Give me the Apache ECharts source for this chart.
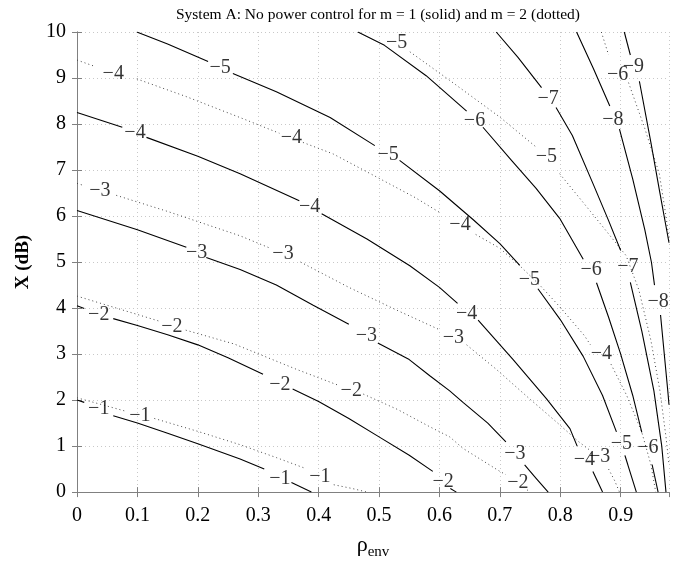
<!DOCTYPE html>
<html>
<head>
<meta charset="utf-8">
<script src="https://cdn.jsdelivr.net/npm/echarts@6/dist/echarts.min.js"></script>
<style>
  html, body { margin: 0; padding: 0; background: #fff; }
  #main { width: 688px; height: 565px; }
</style>
</head>
<body>
<div id="main"></div>
<script>
// axis ticks
var xTicks = [0, 0.1, 0.2, 0.3, 0.4, 0.5, 0.6, 0.7, 0.8, 0.9];
var yTicks = [0, 1, 2, 3, 4, 5, 6, 7, 8, 9, 10];

// m = 1 (solid) contours, each one a list of pieces broken at its labels
var solid1 = [
  [[0, 2.0], [0.012, 1.95]],
  [[0.06, 1.66], [0.1, 1.5], [0.15, 1.28], [0.2, 1.05], [0.27, 0.72], [0.31, 0.5]],
  [[0.355, 0.21], [0.388, 0]]
];
var solid1Lab = [[0.036, 1.82], [0.336, 0.3]];

var solid2 = [
  [[0, 4.05], [0.012, 3.99]],
  [[0.06, 3.77], [0.1, 3.62], [0.15, 3.42], [0.2, 3.2], [0.25, 2.92], [0.308, 2.56]],
  [[0.357, 2.24], [0.4, 1.97], [0.45, 1.6], [0.5, 1.2], [0.55, 0.8], [0.589, 0.45]],
  [[0.618, 0.08], [0.628, 0]]
];
var solid2Lab = [[0.036, 3.86], [0.336, 2.33], [0.606, 0.22]];

var solid3 = [
  [[0, 6.12], [0.1, 5.7], [0.181, 5.32]],
  [[0.214, 5.1], [0.27, 4.84], [0.33, 4.5], [0.391, 4.06], [0.45, 3.65]],
  [[0.498, 3.24], [0.55, 2.88], [0.584, 2.53], [0.617, 2.2], [0.639, 1.95], [0.68, 1.5], [0.71, 1.09]],
  [[0.741, 0.59], [0.76, 0.3], [0.78, 0]]
];
var solid3Lab = [[0.198, 5.2], [0.479, 3.4], [0.725, 0.83]];

var solid4 = [
  [[0, 8.25], [0.075, 7.93]],
  [[0.115, 7.71], [0.2, 7.3], [0.27, 6.92], [0.368, 6.33]],
  [[0.405, 6.05], [0.48, 5.5], [0.551, 4.92], [0.6, 4.45], [0.63, 4.1]],
  [[0.664, 3.74], [0.722, 2.88], [0.777, 2.03], [0.816, 1.38], [0.828, 1.0]],
  [[0.854, 0.45], [0.87, 0]]
];
var solid4Lab = [[0.096, 7.8], [0.385, 6.2], [0.645, 3.88], [0.84, 0.7]];

var solid5 = [
  [[0.099, 10], [0.15, 9.74], [0.217, 9.36]],
  [[0.258, 9.1], [0.33, 8.7], [0.419, 8.14], [0.493, 7.53]],
  [[0.534, 7.21], [0.6, 6.55], [0.656, 5.92], [0.7, 5.4], [0.733, 4.93]],
  [[0.763, 4.42], [0.8, 3.75], [0.838, 2.95], [0.87, 2.1], [0.893, 1.31]],
  [[0.907, 0.8], [0.926, 0]]
];
var solid5Lab = [[0.237, 9.22], [0.515, 7.34], [0.749, 4.62], [0.901, 1.04]];

var solid6 = [
  [[0.465, 10], [0.509, 9.71], [0.578, 9.05], [0.645, 8.28]],
  [[0.672, 7.93], [0.72, 7.2], [0.76, 6.6], [0.799, 5.95], [0.838, 5.06]],
  [[0.86, 4.55], [0.88, 3.8], [0.9, 3.0], [0.92, 2.1], [0.935, 1.3]],
  [[0.952, 0.6], [0.962, 0]]
];
var solid6Lab = [[0.658, 8.08], [0.851, 4.84], [0.945, 0.96]];

var solid7 = [
  [[0.694, 10], [0.73, 9.45], [0.769, 8.79]],
  [[0.793, 8.36], [0.82, 7.75], [0.854, 6.71], [0.88, 5.9], [0.9, 5.25]],
  [[0.916, 4.56], [0.935, 3.5], [0.955, 2.2], [0.968, 1.0], [0.975, 0]]
];
var solid7Lab = [[0.78, 8.55], [0.912, 4.9]];

var solid8 = [
  [[0.827, 10], [0.855, 9.2], [0.882, 8.39]],
  [[0.898, 7.89], [0.92, 6.8], [0.94, 5.7], [0.951, 4.99], [0.956, 4.5]],
  [[0.966, 3.85], [0.978, 2.2], [0.98, 1.9]]
];
var solid8Lab = [[0.887, 8.1], [0.962, 4.14]];

var solid9 = [
  [[0.906, 10], [0.916, 9.5]],
  [[0.931, 8.93], [0.95, 7.6], [0.965, 6.5], [0.98, 5.42]]
];
var solid9Lab = [[0.921, 9.25]];

// m = 2 (dotted) contours
var dotted1 = [
  [[0, 2.05], [0.08, 1.76]],
  [[0.128, 1.6], [0.2, 1.32], [0.27, 1.03], [0.33, 0.75], [0.375, 0.53]],
  [[0.425, 0.16], [0.455, 0.08], [0.48, 0]]
];
var dotted1Lab = [[0.104, 1.67], [0.402, 0.34]];

var dotted2 = [
  [[0, 4.26], [0.05, 4.06], [0.135, 3.72]],
  [[0.18, 3.52], [0.26, 3.22], [0.363, 2.67], [0.435, 2.31]],
  [[0.474, 2.13], [0.53, 1.8], [0.584, 1.42], [0.617, 1.2], [0.639, 0.95], [0.7, 0.45], [0.71, 0.38]],
  [[0.745, 0.05], [0.75, 0]]
];
var dotted2Lab = [[0.157, 3.6], [0.454, 2.2], [0.73, 0.2]];

var dotted3 = [
  [[0, 6.71], [0.012, 6.66]],
  [[0.065, 6.45], [0.15, 6.1], [0.27, 5.57], [0.32, 5.3]],
  [[0.37, 5.0], [0.45, 4.45], [0.53, 3.95], [0.6, 3.53]],
  [[0.645, 3.2], [0.694, 2.67], [0.749, 2.03], [0.794, 1.52], [0.83, 1.1], [0.85, 0.9]],
  [[0.88, 0.5], [0.89, 0.25], [0.898, 0]]
];
var dotted3Lab = [[0.038, 6.55], [0.341, 5.17], [0.623, 3.36], [0.865, 0.76]];

var dotted4 = [
  [[0, 9.39], [0.03, 9.25]],
  [[0.099, 8.98], [0.18, 8.6], [0.27, 8.14], [0.335, 7.8]],
  [[0.374, 7.6], [0.424, 7.35], [0.5, 6.82], [0.56, 6.4], [0.6, 6.08]],
  [[0.66, 5.6], [0.7, 5.3], [0.733, 4.92], [0.766, 4.5], [0.799, 4.03], [0.84, 3.4], [0.85, 3.2]],
  [[0.884, 2.78], [0.91, 2.1], [0.935, 1.3], [0.95, 0.6], [0.958, 0]]
];
var dotted4Lab = [[0.06, 9.1], [0.355, 7.71], [0.634, 5.8], [0.868, 3.0]];

var dotted5 = [
  [[0.551, 9.57], [0.62, 8.92], [0.7, 8.15], [0.76, 7.5]],
  [[0.799, 6.92], [0.85, 6.1], [0.909, 5.14], [0.93, 4.4], [0.95, 3.3], [0.965, 2.2], [0.975, 1.2], [0.98, 0.6]]
];
var dotted5Lab = [[0.529, 9.76], [0.777, 7.28]];

var dotted6 = [
  [[0.868, 10], [0.88, 9.5]],
  [[0.913, 8.9], [0.94, 7.9], [0.964, 6.92], [0.975, 6.0], [0.98, 5.5]]
];
var dotted6Lab = [[0.895, 9.07]];

var solidLevels = [
  [-1, solid1, solid1Lab], [-2, solid2, solid2Lab], [-3, solid3, solid3Lab],
  [-4, solid4, solid4Lab], [-5, solid5, solid5Lab], [-6, solid6, solid6Lab],
  [-7, solid7, solid7Lab], [-8, solid8, solid8Lab], [-9, solid9, solid9Lab]
];
var dottedLevels = [
  [-1, dotted1, dotted1Lab], [-2, dotted2, dotted2Lab], [-3, dotted3, dotted3Lab],
  [-4, dotted4, dotted4Lab], [-5, dotted5, dotted5Lab], [-6, dotted6, dotted6Lab]
];

var serif = '"Liberation Serif", "DejaVu Serif", serif';
var chart = echarts.init(document.getElementById('main'));

var series = [];
var labelData = [];
function addLevels(levels, lineStyle) {
  levels.forEach(function (lv) {
    lv[1].forEach(function (seg) {
      series.push({
        type: 'line',
        data: seg,
        showSymbol: false,
        silent: true,
        clip: true,
        lineStyle: lineStyle
      });
    });
    lv[2].forEach(function (p) {
      labelData.push([p[0], p[1], '\u2212' + Math.abs(lv[0])]);
    });
  });
}
addLevels(dottedLevels, { color: '#444', width: 1, type: [1, 3] });
addLevels(solidLevels, { color: '#000', width: 1.1, type: 'solid' });

series.push({
  type: 'scatter',
  data: labelData,
  symbolSize: 1,
  silent: true,
  itemStyle: { color: 'rgba(0,0,0,0)' },
  label: {
    show: true,
    position: 'inside',
    formatter: function (p) { return p.value[2]; },
    fontFamily: serif,
    fontSize: 20,
    color: '#000'
  },
  z: 5
});

var splitStyle = { show: true, lineStyle: { color: '#c8c8c8', type: [1, 3], width: 1 } };
var axisLine = { show: true, lineStyle: { color: '#808080', width: 1 } };
var tick = { show: true, inside: true, length: 5, lineStyle: { color: '#808080' } };

var option = {
  animation: false,
  title: {
    text: 'System A: No power control for m = 1 (solid) and m = 2 (dotted)',
    left: 373,
    top: 2,
    textAlign: 'center',
    textStyle: { fontFamily: serif, fontSize: 15.5, fontWeight: 'normal', color: '#000' }
  },
  grid: { left: 77, right: 19, top: 32, bottom: 67 },
  xAxis: [
    {
      type: 'value', min: 0, max: 0.98, interval: 0.1, position: 'bottom',
      axisLine: axisLine, axisTick: tick, splitLine: splitStyle,
      axisLabel: { fontFamily: serif, fontSize: 20, color: '#000', margin: 14, showMaxLabel: false },
      name: '{a|\u03c1}{b|env}', nameLocation: 'middle', nameGap: 39,
      nameTextStyle: {
        rich: {
          a: { fontFamily: serif, fontSize: 22, color: '#000', lineHeight: 28 },
          b: { fontFamily: serif, fontSize: 15, color: '#000', lineHeight: 28, padding: [14, 0, 0, 0] }
        }
      }
    },
    {
      type: 'value', min: 0, max: 0.98, interval: 0.1, position: 'top',
      axisLine: axisLine, axisTick: tick, axisLabel: { show: false }, splitLine: { show: false }
    }
  ],
  yAxis: [
    {
      type: 'value', min: 0, max: 10, interval: 1, position: 'left',
      axisLine: axisLine, axisTick: tick, splitLine: splitStyle,
      axisLabel: { fontFamily: serif, fontSize: 20, color: '#000', margin: 11 },
      name: 'X (dB)', nameLocation: 'middle', nameGap: 44, nameRotate: 90,
      nameTextStyle: { fontFamily: serif, fontSize: 19, fontWeight: 'bold', color: '#000' }
    },
    {
      type: 'value', min: 0, max: 10, interval: 1, position: 'right',
      axisLine: axisLine, axisTick: tick, axisLabel: { show: false }, splitLine: { show: false }
    }
  ],
  series: series
};
chart.setOption(option);
</script>
</body>
</html>
